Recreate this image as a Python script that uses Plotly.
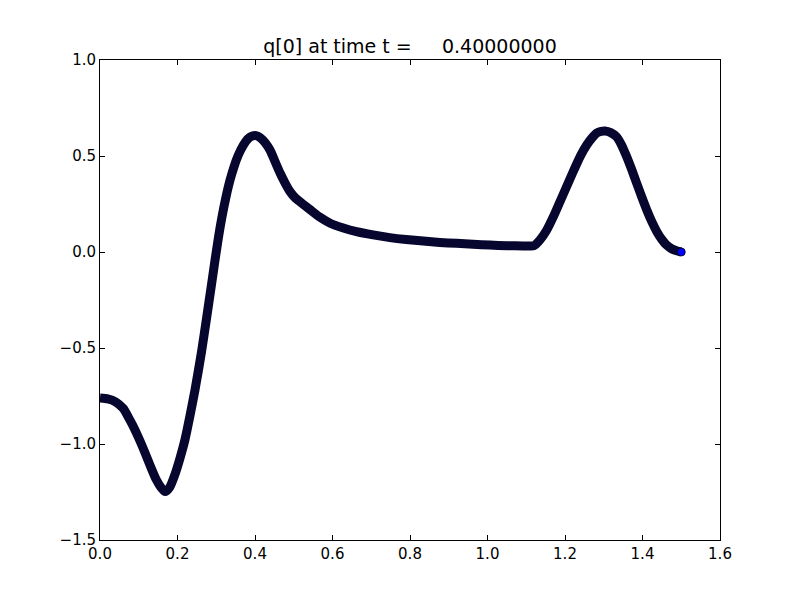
import plotly.graph_objects as go

x_vals = [0.0, 0.02, 0.04, 0.06, 0.073, 0.085, 0.099, 0.116, 0.13, 0.145, 0.158, 0.168, 0.18,
          0.194, 0.207, 0.219, 0.232, 0.245, 0.262, 0.275, 0.287, 0.297, 0.306, 0.314, 0.325,
          0.335, 0.346, 0.357, 0.37, 0.383, 0.393, 0.403, 0.414, 0.426, 0.439, 0.452, 0.465,
          0.478, 0.49, 0.503, 0.516, 0.542, 0.567, 0.594, 0.628, 0.662, 0.705, 0.748, 0.79,
          0.834, 0.877, 0.92, 0.963, 1.006, 1.05, 1.092, 1.11, 1.12, 1.135, 1.153, 1.17, 1.187,
          1.204, 1.221, 1.239, 1.256, 1.27, 1.282, 1.293, 1.303, 1.318, 1.333, 1.346, 1.359,
          1.372, 1.385, 1.398, 1.411, 1.424, 1.437, 1.45, 1.462, 1.475, 1.488, 1.5]
y_vals = [-0.76, -0.765, -0.78, -0.815, -0.86, -0.905, -0.965, -1.045, -1.115, -1.185, -1.228, -1.248, -1.225,
          -1.155, -1.07, -0.98, -0.855, -0.72, -0.52, -0.345, -0.18, -0.04, 0.08, 0.175, 0.285,
          0.37, 0.445, 0.505, 0.557, 0.592, 0.604, 0.606, 0.595, 0.57, 0.53, 0.47, 0.41,
          0.358, 0.316, 0.284, 0.262, 0.221, 0.182, 0.15, 0.125, 0.106, 0.089, 0.075, 0.065,
          0.057, 0.05, 0.045, 0.04, 0.036, 0.033, 0.031, 0.031, 0.033, 0.062, 0.115, 0.184, 0.262,
          0.34, 0.418, 0.497, 0.557, 0.595, 0.62, 0.628, 0.63, 0.622, 0.6, 0.557, 0.497,
          0.43, 0.358, 0.287, 0.219, 0.158, 0.106, 0.065, 0.036, 0.017, 0.006, 0.0]

x_ticks = [0.0, 0.2, 0.4, 0.6, 0.8, 1.0, 1.2, 1.4, 1.6]
x_tick_text = ["0.0", "0.2", "0.4", "0.6", "0.8", "1.0", "1.2", "1.4", "1.6"]
y_ticks = [-1.5, -1.0, -0.5, 0.0, 0.5, 1.0]
y_tick_text = ["\u22121.5", "\u22121.0", "\u22120.5", "0.0", "0.5", "1.0"]
title_text = "q[0] at time t =\u00a0\u00a0\u00a0\u00a0\u00a00.40000000"

fig = go.Figure()
fig.add_trace(go.Scatter(
    x=x_vals, y=y_vals, mode="lines",
    line=dict(color="#06062f", width=9, shape="spline", smoothing=0.6),
    hoverinfo="skip", showlegend=False,
))
fig.add_trace(go.Scatter(
    x=[x_vals[-1]], y=[y_vals[-1]], mode="markers",
    marker=dict(color="#0000ff", size=8, line=dict(color="black", width=0.8)),
    hoverinfo="skip", showlegend=False,
))

axis_common = dict(
    showgrid=False, zeroline=False, showline=True, linecolor="black", linewidth=1,
    mirror="ticks", ticks="inside", ticklen=5, tickcolor="black", tickwidth=1,
    tickfont=dict(family="DejaVu Sans", size=15, color="black"),
)
fig.update_xaxes(range=[0, 1.6], tickvals=x_ticks, ticktext=x_tick_text, **axis_common)
fig.update_yaxes(range=[-1.5, 1.0], tickvals=y_ticks, ticktext=y_tick_text, **axis_common)

fig.update_layout(
    width=800, height=600,
    margin=dict(l=100, r=80, t=60, b=60),
    paper_bgcolor="white", plot_bgcolor="white",
    title=dict(text=title_text, x=0.5125, xanchor="center", y=0.923, yanchor="middle",
               font=dict(family="DejaVu Sans", size=19, color="black")),
)
fig.write_html("out.html", config={"displayModeBar": False},
               post_script="document.body.style.margin='0';")
